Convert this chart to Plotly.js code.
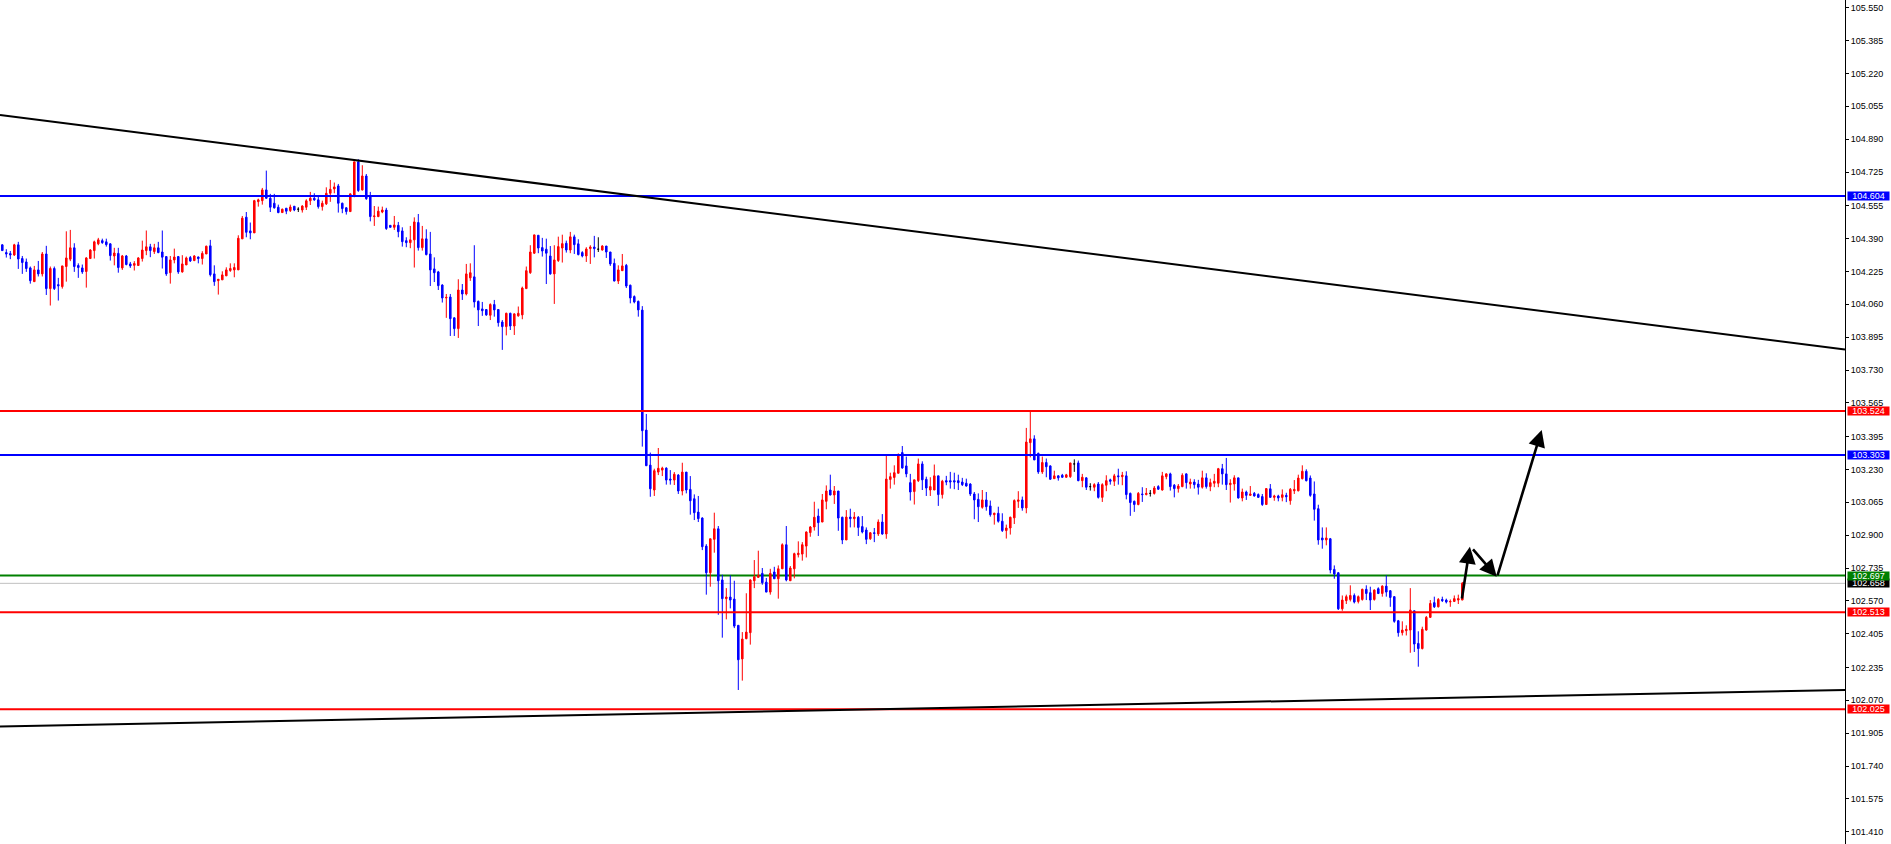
<!DOCTYPE html>
<html>
<head>
<meta charset="utf-8">
<script src="https://cdn.plot.ly/plotly-3.0.1.min.js"></script>
<style>
html,body{margin:0;padding:0;background:#fff;}
#chart{width:1891px;height:844px;}
</style>
</head>
<body>
<div id="chart"></div>
<script>
// ---- candle data (bar index 0..365) ----
const openP = [
104.359,104.320,104.315,104.308,104.359,104.290,104.273,104.243,104.174,104.233,
104.213,104.313,104.139,104.240,104.159,104.149,104.250,104.287,104.344,104.255,
104.243,104.225,104.290,104.330,104.364,104.380,104.374,104.364,104.303,104.316,
104.243,104.303,104.263,104.256,104.255,104.290,104.330,104.349,104.325,104.344,
104.323,104.300,104.219,104.283,104.300,104.223,104.258,104.295,104.280,104.298,
104.290,104.313,104.354,104.213,104.179,104.183,104.203,104.230,104.233,104.233,
104.389,104.498,104.429,104.419,104.576,104.581,104.635,104.593,104.568,104.548,
104.521,104.543,104.531,104.553,104.538,104.534,104.548,104.580,104.593,104.585,
104.551,104.565,104.618,104.640,104.655,104.568,104.545,104.526,104.608,104.776,
104.635,104.705,104.601,104.501,104.501,104.524,104.534,104.457,104.447,104.457,
104.429,104.380,104.370,104.384,104.471,104.345,104.389,104.313,104.238,104.223,
104.157,104.092,104.097,103.992,103.938,104.132,104.112,104.193,104.198,104.075,
104.037,104.034,104.005,104.059,104.034,103.971,103.948,104.015,103.951,104.002,
104.007,104.139,104.219,104.317,104.407,104.345,104.337,104.303,104.213,104.280,
104.343,104.367,104.333,104.399,104.364,104.320,104.303,104.340,104.348,104.337,
104.333,104.353,104.323,104.266,104.177,104.229,104.256,104.156,104.099,104.075,
104.031,103.428,103.252,103.127,103.217,103.227,103.237,103.182,103.177,103.202,
103.122,103.217,103.130,103.083,103.016,102.986,102.845,102.711,102.879,102.932,
102.675,102.581,102.589,102.579,102.447,102.278,102.380,102.410,102.671,102.688,
102.708,102.664,102.614,102.715,102.681,102.731,102.852,102.671,102.731,102.802,
102.805,102.845,102.913,102.941,102.996,102.966,103.070,103.127,103.102,103.122,
102.990,102.876,102.991,102.983,102.990,102.943,102.926,102.882,102.912,102.906,
102.966,102.906,103.180,103.190,103.211,103.315,103.248,103.164,103.119,103.174,
103.258,103.181,103.127,103.127,103.198,103.104,103.174,103.174,103.174,103.174,
103.167,103.161,103.157,103.107,103.080,103.040,103.077,103.047,103.003,103.010,
102.970,102.923,102.936,102.987,103.070,103.077,103.037,103.365,103.384,103.311,
103.218,103.265,103.248,103.184,103.198,103.201,103.191,103.194,103.258,103.263,
103.174,103.188,103.144,103.141,103.157,103.090,103.151,103.178,103.171,103.198,
103.194,103.198,103.110,103.070,103.054,103.107,103.104,103.110,103.110,103.144,
103.127,103.194,103.208,103.151,103.134,103.144,103.208,103.157,103.167,103.157,
103.141,103.188,103.144,103.161,103.161,103.234,103.208,103.154,103.157,103.188,
103.087,103.117,103.100,103.110,103.104,103.094,103.054,103.133,103.090,103.097,
103.090,103.100,103.073,103.123,103.123,103.184,103.221,103.187,103.107,103.033,
102.886,102.876,102.882,102.728,102.711,102.530,102.571,102.577,102.597,102.567,
102.577,102.628,102.611,102.577,102.631,102.607,102.644,102.621,102.591,102.470,
102.410,102.420,102.423,102.520,102.356,102.330,102.423,102.487,102.561,102.540,
102.577,102.574,102.564,102.567,102.574,102.574];

const highP = [
104.362,104.337,104.328,104.364,104.374,104.303,104.290,104.250,104.253,104.278,
104.323,104.354,104.250,104.250,104.193,104.253,104.427,104.434,104.367,104.266,
104.260,104.297,104.337,104.380,104.394,104.390,104.390,104.367,104.344,104.344,
104.308,104.308,104.273,104.277,104.297,104.380,104.431,104.364,104.364,104.374,
104.431,104.300,104.303,104.340,104.303,104.307,104.300,104.303,104.307,104.300,
104.327,104.355,104.384,104.256,104.186,104.226,104.246,104.266,104.266,104.407,
104.504,104.524,104.471,104.585,104.591,104.645,104.732,104.615,104.615,104.561,
104.541,104.543,104.561,104.554,104.548,104.558,104.588,104.625,104.618,104.601,
104.581,104.648,104.685,104.672,104.665,104.571,104.548,104.618,104.776,104.789,
104.759,104.715,104.625,104.554,104.551,104.551,104.545,104.457,104.504,104.474,
104.447,104.397,104.454,104.497,104.514,104.454,104.437,104.424,104.296,104.228,
104.161,104.112,104.112,103.995,104.186,104.162,104.263,104.266,104.357,104.079,
104.072,104.035,104.065,104.082,104.035,103.981,104.018,104.018,104.015,104.049,
104.149,104.250,104.357,104.410,104.407,104.394,104.390,104.353,104.357,104.400,
104.410,104.380,104.424,104.410,104.387,104.327,104.347,104.357,104.404,104.397,
104.357,104.353,104.323,104.290,104.256,104.313,104.263,104.159,104.105,104.079,
104.051,103.509,103.315,103.234,103.338,103.244,103.241,103.227,103.217,103.207,
103.264,103.217,103.197,103.105,103.097,102.990,102.855,102.882,103.013,102.946,
102.701,102.634,102.698,102.671,102.447,102.413,102.608,102.678,102.775,102.822,
102.735,102.685,102.731,102.741,102.748,102.859,102.946,102.745,102.812,102.869,
102.865,102.919,102.946,103.068,103.033,103.107,103.150,103.204,103.147,103.122,
102.993,103.026,103.033,103.016,102.996,102.996,102.939,102.916,102.936,102.979,
103.006,103.304,103.214,103.251,103.311,103.348,103.295,103.208,103.178,103.285,
103.271,103.194,103.191,103.255,103.198,103.178,103.198,103.218,103.214,103.204,
103.188,103.184,103.161,103.117,103.110,103.127,103.117,103.074,103.013,103.043,
103.010,102.953,102.993,103.080,103.121,103.094,103.439,103.526,103.402,103.315,
103.295,103.285,103.251,103.224,103.201,103.208,103.208,103.263,103.281,103.275,
103.208,103.191,103.161,103.161,103.167,103.161,103.201,103.184,103.208,103.234,
103.218,103.221,103.114,103.074,103.117,103.141,103.137,103.127,103.147,103.151,
103.218,103.211,103.214,103.157,103.157,103.211,103.211,103.184,103.181,103.178,
103.224,103.211,103.184,103.208,103.238,103.258,103.288,103.181,103.201,103.188,
103.134,103.124,103.147,103.117,103.110,103.107,103.137,103.157,103.103,103.103,
103.130,103.113,103.137,103.177,103.204,103.251,103.231,103.200,103.170,103.053,
102.939,102.939,102.886,102.748,102.715,102.597,102.601,102.648,102.607,102.597,
102.631,102.648,102.641,102.628,102.638,102.648,102.698,102.624,102.594,102.474,
102.467,102.447,102.634,102.520,102.417,102.440,102.494,102.574,102.591,102.584,
102.591,102.581,102.577,102.597,102.601,102.665];

const lowP = [
104.328,104.295,104.287,104.303,104.238,104.213,104.223,104.164,104.174,104.200,
104.200,104.107,104.054,104.132,104.079,104.139,104.174,104.277,104.223,104.193,
104.213,104.144,104.290,104.290,104.357,104.364,104.350,104.280,104.256,104.219,
104.233,104.256,104.243,104.230,104.255,104.275,104.307,104.297,104.313,104.317,
104.240,104.203,104.164,104.266,104.213,104.219,104.258,104.273,104.277,104.266,
104.260,104.313,104.200,104.153,104.109,104.183,104.203,104.223,104.196,104.233,
104.389,104.397,104.387,104.419,104.551,104.561,104.591,104.524,104.541,104.518,
104.521,104.513,104.524,104.528,104.524,104.521,104.534,104.559,104.580,104.541,
104.531,104.559,104.575,104.618,104.521,104.518,104.511,104.524,104.598,104.625,
104.632,104.585,104.477,104.454,104.498,104.518,104.434,104.447,104.434,104.397,
104.350,104.347,104.342,104.245,104.330,104.330,104.306,104.152,104.172,104.132,
104.069,103.992,103.901,103.901,103.891,104.082,104.105,104.178,104.044,103.951,
104.002,104.002,103.981,103.998,103.948,103.831,103.904,103.931,103.906,103.998,
103.985,104.139,104.213,104.313,104.317,104.300,104.162,104.209,104.062,104.273,
104.270,104.320,104.317,104.313,104.306,104.296,104.273,104.263,104.296,104.323,
104.330,104.293,104.253,104.176,104.162,104.228,104.142,104.065,104.065,103.998,
103.345,103.249,103.093,103.097,103.202,103.197,103.154,103.154,103.152,103.107,
103.100,103.110,103.003,102.976,102.966,102.825,102.601,102.641,102.812,102.500,
102.385,102.477,102.532,102.433,102.122,102.169,102.377,102.350,102.634,102.685,
102.651,102.614,102.601,102.681,102.581,102.731,102.668,102.671,102.683,102.788,
102.772,102.788,102.892,102.923,102.896,102.966,103.030,103.100,103.057,102.922,
102.855,102.876,102.939,102.939,102.896,102.909,102.855,102.876,102.865,102.896,
102.902,102.882,103.134,103.154,103.211,103.234,103.191,103.074,103.054,103.167,
103.127,103.097,103.097,103.127,103.047,103.084,103.151,103.134,103.131,103.127,
103.147,103.144,103.097,102.980,102.966,103.033,103.023,102.993,102.953,102.963,
102.916,102.883,102.903,102.956,103.037,103.023,103.010,103.291,103.278,103.208,
103.208,103.191,103.178,103.184,103.174,103.188,103.188,103.188,103.218,103.171,
103.141,103.127,103.124,103.121,103.084,103.067,103.121,103.154,103.147,103.154,
103.151,103.080,102.997,103.017,103.050,103.067,103.100,103.094,103.104,103.127,
103.124,103.181,103.124,103.090,103.114,103.141,103.134,103.134,103.134,103.104,
103.134,103.134,103.121,103.141,103.141,103.154,103.127,103.064,103.124,103.084,
103.070,103.077,103.097,103.094,103.087,103.047,103.054,103.087,103.073,103.070,
103.070,103.066,103.053,103.107,103.120,103.180,103.170,103.093,102.973,102.852,
102.832,102.849,102.708,102.681,102.524,102.520,102.554,102.567,102.557,102.557,
102.571,102.574,102.524,102.571,102.604,102.591,102.591,102.540,102.460,102.390,
102.396,102.396,102.309,102.313,102.239,102.326,102.420,102.484,102.534,102.537,
102.564,102.557,102.540,102.564,102.554,102.574];

const closeP = [
104.330,104.313,104.308,104.359,104.288,104.270,104.240,104.179,104.233,104.213,
104.313,104.139,104.240,104.139,104.153,104.253,104.293,104.344,104.250,104.245,
104.223,104.293,104.333,104.374,104.384,104.370,104.360,104.305,104.318,104.245,
104.303,104.260,104.253,104.265,104.293,104.333,104.349,104.330,104.344,104.320,
104.297,104.213,104.283,104.298,104.223,104.263,104.293,104.278,104.303,104.290,
104.316,104.352,104.209,104.174,104.186,104.208,104.233,104.240,104.245,104.392,
104.493,104.422,104.419,104.581,104.585,104.635,104.593,104.548,104.545,104.521,
104.538,104.528,104.549,104.534,104.538,104.554,104.580,104.593,104.585,104.551,
104.568,104.618,104.638,104.650,104.568,104.541,104.526,104.615,104.776,104.632,
104.705,104.591,104.501,104.504,104.528,104.534,104.441,104.447,104.459,104.425,
104.375,104.370,104.384,104.474,104.345,104.389,104.310,104.233,104.219,104.154,
104.092,104.095,103.988,103.938,104.132,104.112,104.213,104.219,104.072,104.032,
104.028,104.007,104.059,104.032,103.968,103.948,104.015,103.951,104.012,104.015,
104.142,104.229,104.323,104.409,104.343,104.328,104.317,104.213,104.283,104.350,
104.365,104.333,104.399,104.360,104.310,104.303,104.338,104.348,104.340,104.337,
104.353,104.323,104.263,104.177,104.233,104.253,104.152,104.092,104.072,104.032,
103.425,103.249,103.133,103.224,103.236,103.237,103.177,103.177,103.206,103.122,
103.217,103.127,103.073,103.013,102.983,102.842,102.711,102.882,102.932,102.671,
102.581,102.589,102.574,102.443,102.274,102.378,102.413,102.675,102.691,102.698,
102.661,102.614,102.708,102.681,102.731,102.852,102.675,102.735,102.807,102.809,
102.852,102.916,102.941,102.990,102.963,103.077,103.122,103.102,103.122,102.986,
102.876,102.991,102.983,102.991,102.939,102.916,102.879,102.912,102.909,102.966,
102.906,103.182,103.194,103.214,103.303,103.238,103.208,103.117,103.178,103.258,
103.178,103.137,103.144,103.198,103.104,103.171,103.167,103.167,103.167,103.164,
103.154,103.147,103.107,103.077,103.043,103.077,103.043,103.003,103.010,102.970,
102.923,102.936,102.990,103.074,103.077,103.037,103.368,103.384,103.278,103.218,
103.265,103.244,103.181,103.198,103.188,103.191,103.203,103.263,103.258,103.174,
103.191,103.141,103.144,103.154,103.090,103.154,103.174,103.171,103.198,103.194,
103.201,103.104,103.064,103.054,103.110,103.104,103.110,103.110,103.137,103.131,
103.198,103.208,103.144,103.134,103.147,103.201,103.164,103.167,103.154,103.141,
103.188,103.144,103.164,103.171,103.234,103.208,103.154,103.161,103.188,103.087,
103.117,103.100,103.107,103.097,103.090,103.054,103.134,103.090,103.097,103.087,
103.103,103.093,103.130,103.130,103.187,103.221,103.174,103.100,103.030,102.876,
102.876,102.886,102.725,102.705,102.530,102.574,102.591,102.597,102.564,102.591,
102.628,102.607,102.574,102.624,102.607,102.644,102.614,102.587,102.467,102.410,
102.423,102.427,102.524,102.353,102.330,102.427,102.487,102.557,102.540,102.577,
102.571,102.564,102.567,102.581,102.581,102.658];

// ---- price axis tick labels ----
const tickValues = [105.550,105.385,105.220,105.055,104.890,104.725,104.555,104.390,104.225,104.060,
  103.895,103.730,103.565,103.395,103.230,103.065,102.900,102.735,102.570,102.405,102.235,102.070,
  101.905,101.740,101.575,101.410];

// ---- horizontal levels ----
const levelPrices = [104.604, 103.524, 103.303, 102.658, 102.697, 102.513, 102.025];
const levelColors = ['#0000FF', '#FF0000', '#0000FF', '#C0C0C0', '#008000', '#FF0000', '#FF0000'];
const levelLabelBg = ['#0000FF', '#FF0000', '#0000FF', '#000000', '#008000', '#FF0000', '#FF0000'];

// ---- trend lines: [barStart, priceStart, barEnd, priceEnd] ----
const upperTrend = [-0.575, 105.011, 460.675, 103.833];
const lowerTrend = [-0.575, 101.938, 460.675, 102.122];

// ---- projected path arrows: [tailBar, tailPrice, headBar, headPrice] ----
const arrowPath = [
  [364.85, 102.574, 366.9, 102.842],
  [367.35, 102.836, 373.6, 102.691],
  [373.7, 102.691, 384.85, 103.429]
];

const n = openP.length;
const idx = Array.from({length: n}, (_, i) => i);
const isDoji = idx.map(i => openP[i] === closeP[i]);
const pick = (arr, want) => idx.map(i => (isDoji[i] === want ? arr[i] : null));

const mainTrace = {
  type: 'candlestick', x: idx,
  open: pick(openP, false), high: pick(highP, false), low: pick(lowP, false), close: pick(closeP, false),
  increasing: {line: {color: '#FF0000', width: 1}, fillcolor: '#FF0000'},
  decreasing: {line: {color: '#0000FF', width: 1}, fillcolor: '#0000FF'},
  hoverinfo: 'skip', showlegend: false
};
const dojiTrace = {
  type: 'candlestick', x: idx,
  open: pick(openP, true), high: pick(highP, true), low: pick(lowP, true), close: pick(closeP, true),
  increasing: {line: {color: '#000000', width: 1}, fillcolor: '#000000'},
  decreasing: {line: {color: '#000000', width: 1}, fillcolor: '#000000'},
  hoverinfo: 'skip', showlegend: false
};

const shapes = [];
levelPrices.forEach((p, k) => {
  const isBid = levelColors[k] === '#C0C0C0';
  const bg = isBid || levelColors[k] === '#008000';
  shapes.push({type: 'line', xref: 'paper', x0: 0, x1: 1, yref: 'y', y0: p, y1: p,
    line: {color: levelColors[k], width: isBid ? 1 : 2}, layer: bg ? 'below' : 'above'});
});
[upperTrend, lowerTrend].forEach(t => {
  shapes.push({type: 'line', xref: 'x', yref: 'y', x0: t[0], y0: t[1], x1: t[2], y1: t[3],
    line: {color: '#000000', width: 2}, layer: 'above'});
});

const annotations = [];
levelPrices.forEach((p, k) => {
  annotations.push({xref: 'paper', x: 1, xanchor: 'left', xshift: 2, yref: 'y', y: p, yanchor: 'middle',
    text: p.toFixed(3), showarrow: false, bgcolor: levelLabelBg[k], borderpad: 0,
    width: 41, height: 8, align: 'center', valign: 'middle',
    font: {family: 'Liberation Sans, Arial, sans-serif', size: 9, color: '#FFFFFF'}});
});
arrowPath.forEach(a => {
  annotations.push({xref: 'x', yref: 'y', axref: 'x', ayref: 'y', x: a[2], y: a[3], ax: a[0], ay: a[1],
    text: '', showarrow: true, arrowhead: 2, arrowsize: 1.3, arrowwidth: 2.6, arrowcolor: '#000000',
    standoff: 0, startstandoff: 0});
});

const layout = {
  width: 1891, height: 844,
  margin: {l: 0, r: 46, t: 0, b: 0, pad: 0},
  paper_bgcolor: '#FFFFFF', plot_bgcolor: '#FFFFFF',
  showlegend: false, boxgap: 0.45,
  xaxis: {range: [-0.575, 460.675], showgrid: false, zeroline: false, showticklabels: false,
    ticks: '', showline: false, rangeslider: {visible: false}, fixedrange: true},
  yaxis: {side: 'right', range: [101.3481, 105.5893], showgrid: false, zeroline: false,
    showline: true, linecolor: '#000000', linewidth: 1, ticks: 'outside', ticklen: 3,
    tickwidth: 1, tickcolor: '#000000',
    tickvals: tickValues, ticktext: tickValues.map(v => v.toFixed(3)),
    tickfont: {family: 'Liberation Sans, Arial, sans-serif', size: 9, color: '#000000'},
    fixedrange: true},
  shapes: shapes,
  annotations: annotations,
  hovermode: false
};

Plotly.newPlot('chart', [mainTrace, dojiTrace], layout, {displayModeBar: false, staticPlot: true});
</script>
</body>
</html>
